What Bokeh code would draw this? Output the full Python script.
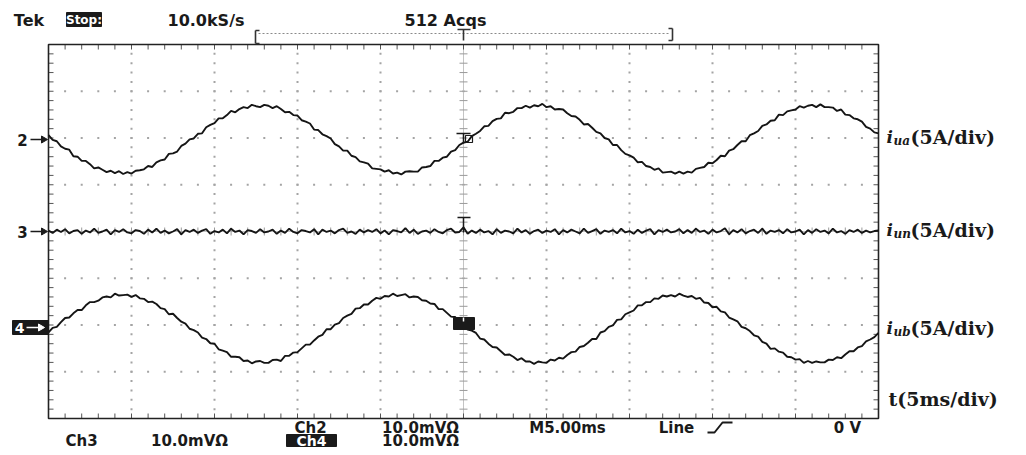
import numpy as np
from bokeh.plotting import figure
from bokeh.models import Range1d
from bokeh.core.properties import value
from bokeh.embed import file_html
from bokeh.resources import INLINE

# ---------------- data ----------------
# Scope traces in screen divisions (5 A/div), one sample every 0.25 ms (5 ms/div)
sample_ms = 0.25
i_ua = [2.06, 1.96, 1.93, 1.82, 1.77, 1.75, 1.61, 1.60, 1.51, 1.51,
        1.44, 1.35, 1.37, 1.32, 1.27, 1.30, 1.25, 1.29, 1.23, 1.27,
        1.24, 1.30, 1.31, 1.33, 1.40, 1.38, 1.48, 1.52, 1.54, 1.66,
        1.67, 1.71, 1.83, 1.88, 1.97, 1.99, 2.09, 2.10, 2.23, 2.28,
        2.32, 2.42, 2.42, 2.49, 2.58, 2.55, 2.62, 2.66, 2.64, 2.71,
        2.68, 2.66, 2.71, 2.69, 2.64, 2.68, 2.62, 2.55, 2.56, 2.49,
        2.48, 2.38, 2.35, 2.31, 2.18, 2.17, 2.08, 2.04, 1.99, 1.87,
        1.82, 1.73, 1.73, 1.62, 1.59, 1.50, 1.48, 1.45, 1.35, 1.34,
        1.33, 1.28, 1.31, 1.24, 1.26, 1.22, 1.28, 1.29, 1.28, 1.28,
        1.37, 1.38, 1.40, 1.51, 1.51, 1.58, 1.60, 1.71, 1.74, 1.85,
        1.90, 1.92, 2.04, 2.09, 2.15, 2.25, 2.26, 2.36, 2.41, 2.42,
        2.54, 2.53, 2.56, 2.64, 2.64, 2.69, 2.65, 2.70, 2.68, 2.73,
        2.66, 2.68, 2.61, 2.62, 2.61, 2.53, 2.47, 2.46, 2.39, 2.29,
        2.30, 2.22, 2.13, 2.10, 2.00, 1.97, 1.85, 1.85, 1.74, 1.66,
        1.63, 1.58, 1.48, 1.49, 1.40, 1.38, 1.32, 1.35, 1.26, 1.27,
        1.28, 1.24, 1.28, 1.24, 1.28, 1.26, 1.34, 1.36, 1.38, 1.47,
        1.46, 1.53, 1.62, 1.61, 1.73, 1.76, 1.85, 1.93, 1.93, 2.06,
        2.10, 2.15, 2.26, 2.29, 2.37, 2.38, 2.50, 2.49, 2.57, 2.59,
        2.61, 2.68, 2.65, 2.69, 2.71, 2.66, 2.72, 2.66, 2.66, 2.65,
        2.58, 2.61, 2.50, 2.49, 2.42, 2.40, 2.35, 2.24, 2.20, 2.12,
        2.10]
i_un = [0.02, -0.03, 0.04, -0.01, 0.05, -0.04, 0.01, 0.03, -0.05, 0.02,
        -0.02, 0.06, -0.03, 0.00, 0.04, -0.06, 0.03, -0.01, 0.05, -0.02,
        -0.04, 0.03, 0.01, -0.05, 0.04, -0.02, 0.06, -0.03, 0.02, -0.04,
        0.00, 0.05, -0.06, 0.03, -0.01, 0.04, -0.03, 0.02, 0.05, -0.05,
        0.01, -0.02, 0.04, -0.04, 0.06, -0.01, 0.02, -0.06, 0.03, 0.01,
        -0.03, 0.05, -0.02, 0.00, 0.04, -0.05, 0.02, -0.03, 0.06, -0.01,
        -0.04, 0.03, 0.01, -0.02, 0.05, -0.06, 0.04, -0.01, 0.02, -0.04,
        0.03, 0.06, -0.03, 0.00, -0.05, 0.04, -0.02, 0.03, -0.01, 0.05,
        -0.04, 0.02, -0.06, 0.03, 0.01, -0.02, 0.07, -0.03, 0.04, -0.05,
        0.00, 0.02, -0.03, 0.05, -0.01, -0.04, 0.03, 0.06, -0.02, -0.01,
        0.09, -0.05, 0.02, -0.03, 0.04, -0.02, 0.01, -0.06, 0.05, -0.03,
        0.02, 0.00, -0.04, 0.06, -0.02, 0.03, -0.05, 0.01, 0.04, -0.03,
        0.02, -0.01, 0.05, -0.06, 0.03, -0.02, 0.04, 0.00, -0.04, 0.06,
        -0.03, 0.01, 0.05, -0.05, 0.02, -0.01, 0.03, -0.04, 0.06, -0.02,
        0.01, -0.05, 0.04, -0.03, 0.02, 0.05, -0.06, 0.03, -0.01, 0.04,
        -0.02, 0.00, 0.05, -0.04, 0.03, -0.03, 0.06, -0.01, 0.02, -0.05,
        0.04, -0.02, 0.01, 0.07, -0.06, 0.03, -0.02, 0.05, -0.04, 0.01,
        0.04, -0.03, 0.06, -0.05, 0.02, -0.01, 0.03, -0.04, 0.05, -0.02,
        0.00, 0.04, -0.06, 0.03, -0.03, 0.05, -0.01, 0.02, -0.04, 0.06,
        -0.02, 0.01, -0.05, 0.03, -0.01, 0.04, -0.03, 0.02, -0.02, 0.01,
        0.02]
i_ub = [-2.16, -2.06, -2.04, -1.94, -1.85, -1.84, -1.75, -1.68, -1.68, -1.58,
        -1.51, -1.51, -1.48, -1.41, -1.39, -1.41, -1.33, -1.37, -1.36, -1.35,
        -1.40, -1.36, -1.43, -1.44, -1.51, -1.50, -1.55, -1.64, -1.66, -1.77,
        -1.76, -1.85, -1.93, -1.97, -2.08, -2.11, -2.16, -2.27, -2.30, -2.39,
        -2.40, -2.52, -2.55, -2.58, -2.68, -2.68, -2.69, -2.77, -2.76, -2.82,
        -2.78, -2.77, -2.81, -2.81, -2.75, -2.74, -2.77, -2.66, -2.66, -2.59,
        -2.58, -2.50, -2.42, -2.42, -2.33, -2.25, -2.21, -2.09, -2.09, -1.99,
        -1.96, -1.85, -1.80, -1.76, -1.65, -1.64, -1.56, -1.56, -1.48, -1.42,
        -1.44, -1.38, -1.39, -1.33, -1.38, -1.36, -1.34, -1.41, -1.39, -1.40,
        -1.47, -1.48, -1.54, -1.55, -1.66, -1.66, -1.74, -1.82, -1.83, -1.94,
        -1.98, -2.10, -2.12, -2.17, -2.29, -2.31, -2.40, -2.47, -2.48, -2.56,
        -2.64, -2.63, -2.68, -2.75, -2.71, -2.78, -2.78, -2.83, -2.78, -2.80,
        -2.81, -2.74, -2.76, -2.70, -2.72, -2.64, -2.58, -2.57, -2.47, -2.45,
        -2.38, -2.30, -2.30, -2.16, -2.13, -2.04, -2.01, -1.89, -1.88, -1.77,
        -1.73, -1.69, -1.58, -1.58, -1.51, -1.51, -1.43, -1.44, -1.37, -1.39,
        -1.36, -1.39, -1.33, -1.37, -1.40, -1.38, -1.44, -1.42, -1.52, -1.53,
        -1.62, -1.61, -1.71, -1.73, -1.84, -1.88, -1.92, -2.04, -2.07, -2.13,
        -2.22, -2.25, -2.36, -2.40, -2.51, -2.50, -2.57, -2.59, -2.68, -2.69,
        -2.74, -2.73, -2.81, -2.77, -2.81, -2.78, -2.80, -2.80, -2.74, -2.75,
        -2.69, -2.71, -2.63, -2.56, -2.56, -2.48, -2.45, -2.35, -2.31, -2.26,
        -2.17]

trace_subscripts = ["ua", "un", "ub"]
trace_scale_text = "(5A/div)"
time_scale_text = "t(5ms/div)"
channel_numbers = ["2", "3", "4"]
header_texts = ["Tek", "Stop:", "10.0kS/s", "512 Acqs"]
footer_row1 = ["Ch2", "10.0mV\u03a9", "M5.00ms", "Line", "0 V"]
footer_row2 = ["Ch3", "10.0mV\u03a9", "Ch4", "10.0mV\u03a9"]

# ---------------- layout ----------------
W, H = 1020, 452
OX, OY = 0, 0                      # figure origin in picture px
GX0, GX1, GY0, GY1 = 48, 878, 44, 418   # graticule box (picture px)
PXX = (GX1 - GX0) / 50.0           # px per ms
PXY = (GY1 - GY0) / 8.0            # px per division
YC = (GY0 + GY1) / 2.0


def X(xp):
    return (xp - GX0) / PXX


def Y(yp):
    return (YC - yp) / PXY


p = figure(width=W, height=H,
           x_range=Range1d(X(OX), X(OX + W)), y_range=Range1d(Y(OY + H), Y(OY)),
           output_backend="svg", toolbar_location=None, min_border=0,
           x_axis_location=None, y_axis_location=None,
           outline_line_color=None, background_fill_color="white",
           border_fill_color="white")
p.grid.visible = False

GRID = "#a4a4a4"
# dotted graticule
dx, dy = [], []
for yd in [-3, -2, -1, 1, 2, 3]:
    for xm in range(1, 50):
        dx.append(xm); dy.append(yd)
for xm in [5, 10, 15, 20, 30, 35, 40, 45]:
    for k in range(1, 40):
        dx.append(xm); dy.append(-4 + 0.2 * k)
p.scatter(dx, dy, marker="square", size=2, fill_color=GRID, line_color=None)

# centre cross with ticks
p.segment(x0=[25, 0], y0=[-4, 0], x1=[25, 50], y1=[4, 0], line_color="#c4c4c4", line_width=1)
tk = 4.0
yk = [-4 + 0.2 * k for k in range(1, 40)]
p.segment(x0=[25 - tk / PXX] * len(yk), y0=yk, x1=[25 + tk / PXX] * len(yk), y1=yk,
          line_color="#9a9a9a", line_width=1)
xk = list(range(1, 50))
p.segment(x0=xk, y0=[-tk / PXY] * len(xk), x1=xk, y1=[tk / PXY] * len(xk),
          line_color="#9a9a9a", line_width=1)

# border ticks
bl = 5.0
p.segment(x0=[0] * len(yk), y0=yk, x1=[bl / PXX] * len(yk), y1=yk, line_color="#555", line_width=1)
p.segment(x0=[50] * len(yk), y0=yk, x1=[50 - bl / PXX] * len(yk), y1=yk, line_color="#555", line_width=1)
p.segment(x0=xk, y0=[4] * len(xk), x1=xk, y1=[4 - bl / PXY] * len(xk), line_color="#555", line_width=1)
p.segment(x0=xk, y0=[-4] * len(xk), x1=xk, y1=[-4 + bl / PXY] * len(xk), line_color="#555", line_width=1)
p.quad(left=[0], right=[50], bottom=[-4], top=[4], fill_color=None, line_color="#222", line_width=1.6)

# traces
for series in (i_ua, i_un, i_ub):
    t = np.arange(len(series)) * sample_ms
    p.line(t, series, line_color="#151515", line_width=1.9)

INK = "#1a1a1a"


def segs(pts, color=INK, width=1.5, dash="solid"):
    p.segment(x0=[X(a) for a, b, c, d in pts], y0=[Y(b) for a, b, c, d in pts],
              x1=[X(c) for a, b, c, d in pts], y1=[Y(d) for a, b, c, d in pts],
              line_color=color, line_width=width, line_dash=dash)


def box(x0, x1, y0, y1, color=INK, fill=True, width=1.0):
    p.quad(left=[X(x0)], right=[X(x1)], top=[Y(y0)], bottom=[Y(y1)],
           fill_color=color if fill else None, line_color=color, line_width=width)


def tri(x0, x1, yc, h, color=INK):
    p.patch([X(x0), X(x1), X(x0)], [Y(yc - h), Y(yc), Y(yc + h)], fill_color=color, line_color=color)


def txt(items, font, size, style="bold", color=INK, align="center", baseline="middle"):
    p.text(x=[X(a) for s, a, b in items], y=[Y(b) for s, a, b in items], text=[s for s, a, b in items],
           text_font=value(font), text_font_size=size, text_font_style=style,
           text_color=color, text_align=align, text_baseline=baseline)


# trigger markers on the traces
segs([(456, 133, 470, 133), (463, 133, 463, 143)], width=1.5)
box(465, 472, 135, 142, fill=False, width=1.2)
segs([(457, 217, 470, 217), (463, 217, 463, 232)], width=1.5)
box(453, 474, 317, 329)
segs([(463, 317, 463, 321)], color="white", width=1.5)

# header
SANS = "DejaVu Sans"
box(66, 101, 12, 26)
txt([(header_texts[1], 83.5, 19.5)], SANS, "12px", color="white")
txt([(header_texts[0], 28.5, 19.5), (header_texts[2], 205.5, 19.5), (header_texts[3], 445, 19.5)],
    SANS, "16px")
segs([(258, 33, 669, 33)], color="#8a8a8a", width=1.2, dash="2 2")
segs([(255, 30, 255, 43), (255, 30, 259, 30), (255, 43, 259, 43),
      (672, 28, 672, 40), (668, 28, 672, 28), (668, 40, 672, 40),
      (457, 29, 470, 29), (463, 29, 463, 40)], color="#333", width=1.6)

# channel ground markers on the left
txt([(channel_numbers[0], 22, 139), (channel_numbers[1], 22, 231)], SANS, "15px")
segs([(30, 139, 42, 139), (30, 231, 42, 231)], width=1.6)
tri(41, 47, 139, 3.5)
tri(41, 47, 231, 3.5)
box(12, 48, 320, 334)
txt([(channel_numbers[2], 19, 327)], SANS, "14px", color="white")
segs([(26, 327, 39, 327)], color="white", width=1.6)
tri(38, 44, 327, 3.5, color="white")

# footer
txt([(footer_row1[0], 310, 427), (footer_row1[1], 420, 427), (footer_row1[2], 567, 427),
     (footer_row1[3], 676, 427), (footer_row1[4], 847, 427),
     (footer_row2[0], 81, 440), (footer_row2[1], 189, 440), (footer_row2[3], 420, 440)],
    SANS, "15px")
box(286, 336, 434, 446)
txt([(footer_row2[2], 311, 440)], SANS, "14px", color="white")
p.line([X(707), X(714), X(722), X(732)], [Y(432), Y(432), Y(422), Y(422)], line_color=INK, line_width=2)

# right-hand trace labels
SERIF = "DejaVu Serif"
for sub, yc in zip(trace_subscripts, [136, 229, 327]):
    txt([("i", 886, yc)], SERIF, "17px", style="bold italic", align="left")
    txt([(sub, 893, yc + 4)], SERIF, "12px", style="bold italic", align="left")
    txt([(trace_scale_text, 910, yc)], SERIF, "19px", align="left")
txt([(time_scale_text, 888, 398)], SERIF, "19px", align="left")

open("out.html", "w").write(file_html(p, INLINE))
